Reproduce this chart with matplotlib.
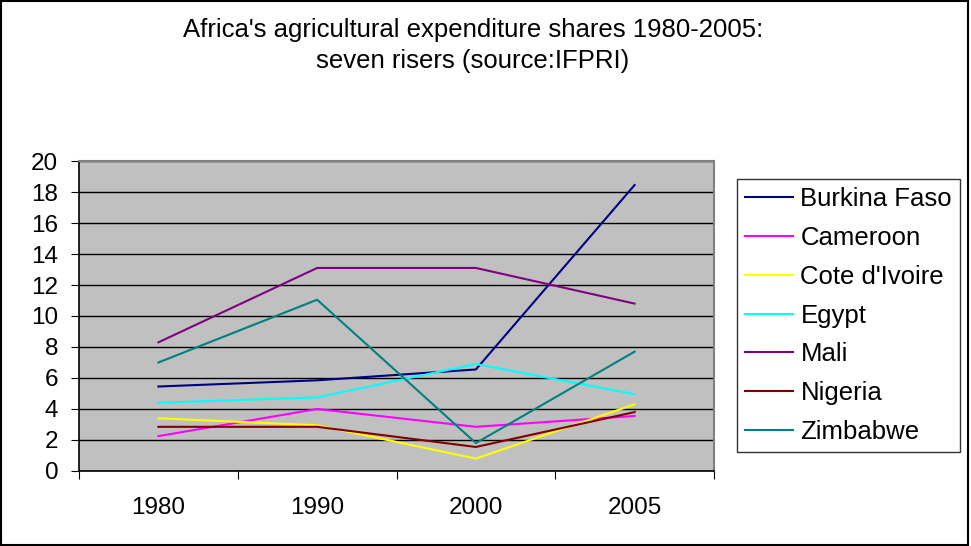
import matplotlib

matplotlib.use("Agg")
import matplotlib.pyplot as plt
from matplotlib.patches import Rectangle

plt.rcParams["font.family"] = ["Liberation Sans", "DejaVu Sans"]

years = ["1980", "1990", "2000", "2005"]
countries = ["Burkina Faso", "Cameroon", "Cote d'Ivoire", "Egypt",
             "Mali", "Nigeria", "Zimbabwe"]
burkina_faso = [5.45, 5.85, 6.55, 18.45]
cameroon = [2.25, 4.0, 2.85, 3.55]
cote_divoire = [3.4, 2.95, 0.8, 4.3]
egypt = [4.4, 4.75, 6.9, 4.95]
mali = [8.3, 13.1, 13.1, 10.8]
nigeria = [2.85, 2.85, 1.55, 3.8]
zimbabwe = [7.0, 11.05, 1.8, 7.7]

series = [burkina_faso, cameroon, cote_divoire, egypt, mali, nigeria, zimbabwe]
colors = ["#000080", "#FF00FF", "#FFFF00", "#00FFFF",
          "#800080", "#800000", "#008080"]

FS_TICK = 17.5
FS_TEXT = 18.5

fig = plt.figure(figsize=(9.71, 5.46), dpi=100)
fig.patches.append(Rectangle((0.001, 0.002), 0.996, 0.996, transform=fig.transFigure,
                             fill=False, edgecolor="black", linewidth=1.5))

ax = fig.add_axes([0.0814, 0.1374, 0.6539, 0.5677])
ax.set_facecolor("#C0C0C0")

xs = [i + 0.5 for i in range(len(years))]
for name, vals, c in zip(countries, series, colors):
    ax.plot(xs, vals, color=c, linewidth=1.5, label=name)

ax.set_xlim(0, len(years))
ax.set_ylim(0, 20)
ax.set_yticks(range(0, 21, 2))
ax.yaxis.grid(True, color="black", linewidth=1.0)
ax.set_axisbelow(True)
ax.tick_params(axis="y", labelsize=FS_TICK, length=6, direction="out", pad=9)

ax.set_xticks(range(len(years) + 1))
ax.set_xticklabels([])
ax.set_xticks(xs, minor=True)
ax.set_xticklabels(years, minor=True, fontsize=FS_TICK)
ax.tick_params(axis="x", which="major", length=6, direction="out")
ax.tick_params(axis="x", which="minor", length=0, pad=19)

for side in ("top", "right"):
    ax.spines[side].set_color("#808080")
    ax.spines[side].set_linewidth(1.5)
for side in ("left", "bottom"):
    ax.spines[side].set_color("black")
    ax.spines[side].set_linewidth(1.2)

fig.text(0.487, 0.917, "Africa's agricultural expenditure shares 1980-2005:\nseven risers (source:IFPRI)",
         ha="center", va="center", fontsize=FS_TEXT, linespacing=1.36)

leg = fig.legend(loc="upper left", bbox_to_anchor=(0.759, 0.672), fontsize=FS_TEXT,
                 frameon=True, fancybox=False, edgecolor="black",
                 handlelength=1.87, labelspacing=0.58, borderpad=0.3,
                 handletextpad=0.3, borderaxespad=0)
leg.get_frame().set_linewidth(1.0)

fig.savefig("out.png", dpi=100)
